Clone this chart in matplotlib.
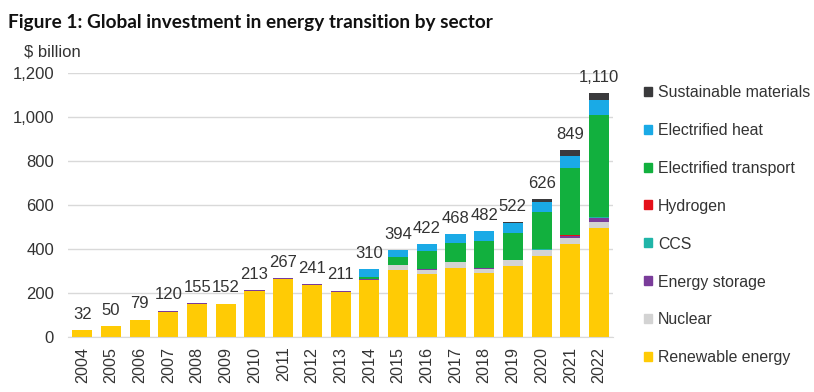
import numpy as np
import matplotlib.pyplot as plt
from matplotlib.patches import Patch

plt.rcParams['font.family'] = ['Liberation Sans', 'DejaVu Sans']

years = [str(y) for y in range(2004, 2023)]
totals = [32, 50, 79, 120, 155, 152, 213, 267, 241, 211,
          310, 394, 422, 468, 482, 522, 626, 849, 1110]

# 各部门投资 ($ billion)
renewable = [31, 48, 76, 115, 152, 148, 210, 264, 238, 206,
             261, 303, 288, 316, 291, 321, 367, 424, 497]
nuclear = [0, 0, 0, 0, 0, 0, 0, 0, 0, 0,
           0, 23, 19, 25, 20, 28, 27, 28, 25]
storage = [1, 2, 3, 5, 3, 4, 3, 3, 3, 5,
           1, 1, 1, 1, 1, 2, 3, 8, 20]
ccs = [0, 0, 0, 0, 0, 0, 0, 0, 0, 0,
       0, 1, 0, 1, 0, 1, 2, 1, 3]
hydrogen = [0, 0, 0, 0, 0, 0, 0, 0, 0, 0,
            0, 0, 0, 0, 0, 0, 0, 1, 1]
transport = [0, 0, 0, 0, 0, 0, 0, 0, 0, 0,
             9, 37, 83, 85, 127, 121, 170, 306, 466]
heat = [0, 0, 0, 0, 0, 0, 0, 0, 0, 0,
        39, 29, 31, 40, 43, 44, 46, 56, 67]
materials = [0, 0, 0, 0, 0, 0, 0, 0, 0, 0,
             0, 0, 0, 0, 0, 5, 11, 25, 31]

series = [
    ('Renewable energy', renewable, '#FFCB05'),
    ('Nuclear', nuclear, '#D3D3D3'),
    ('Energy storage', storage, '#7A3C9A'),
    ('CCS', ccs, '#20B5A8'),
    ('Hydrogen', hydrogen, '#E5101A'),
    ('Electrified transport', transport, '#12B03E'),
    ('Electrified heat', heat, '#1AAAE6'),
    ('Sustainable materials', materials, '#3A3A3C'),
]

fig = plt.figure(figsize=(8.14, 3.92), dpi=100)
ax = fig.add_axes([0.0835, 0.1403, 0.670, 0.6727])

x = np.arange(len(years))
bottom = np.zeros(len(years))
for name, vals, col in series:
    ax.bar(x, vals, bottom=bottom, width=0.7, color=col, label=name)
    bottom += np.array(vals)

txt = '#333333'
for i, t in enumerate(totals):
    ax.annotate(f'{t:,}', (x[i], t), xytext=(0, 6), textcoords='offset points',
                ha='center', va='bottom', fontsize=12, color=txt)

ax.set_xlim(-0.5, len(years) - 0.5)
ax.set_ylim(0, 1200)
ax.set_yticks(range(0, 1201, 200))
ax.set_yticklabels([f'{v:,}' for v in range(0, 1201, 200)], fontsize=12, color=txt)
ax.set_xticks(x)
ax.set_xticklabels(years, rotation=90, fontsize=11.6, color=txt)
ax.tick_params(axis='y', length=0, pad=10)
ax.tick_params(axis='x', length=0, pad=7)
ax.grid(axis='y', color='#D9D9D9', linewidth=1)
ax.set_axisbelow(True)
for s in ['top', 'right', 'left']:
    ax.spines[s].set_visible(False)
ax.spines['bottom'].set_color('#D9D9D9')

fig.text(0.010, 0.942, 'Figure 1: Global investment in energy transition by sector',
         fontsize=13.7, fontweight='bold', family=['Lato', 'DejaVu Sans'],
         va='center', color='#111111')
fig.text(0.029, 0.867, '$ billion', fontsize=12, va='center', color=txt)

handles = [Patch(color=col, label=name) for name, vals, col in series][::-1]
fig.legend(handles=handles, loc='upper left', bbox_to_anchor=(0.783, 0.800),
           frameon=False, fontsize=11.4, handlelength=0.5, handleheight=0.5,
           handletextpad=0.4, labelspacing=1.45, labelcolor=txt, borderaxespad=0)

fig.savefig('out.png', dpi=100)
